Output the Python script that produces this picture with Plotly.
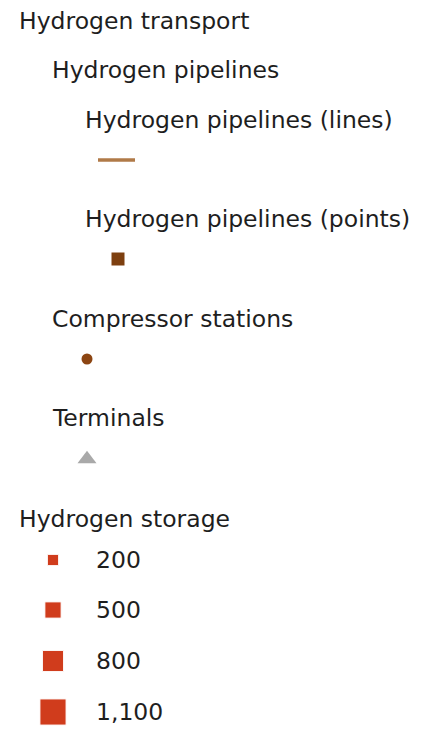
import plotly.graph_objects as go

# Legend content
headings = ["Hydrogen transport", "Hydrogen pipelines", "Hydrogen pipelines (lines)",
            "Hydrogen pipelines (points)", "Compressor stations", "Terminals",
            "Hydrogen storage"]
heading_levels = [0, 1, 2, 2, 1, 1, 0]
storage_values = [200, 500, 800, 1100]
storage_labels = ["200", "500", "800", "1,100"]

TEXT = "#1e1e1e"
FONT = "DejaVu Sans"
FSIZE = 23.5
W, H = 424, 731
PAD = 8  # page body margin

fig = go.Figure()

# heading rows: indent and vertical centre
indent = {0: 18, 1: 51, 2: 84}
heading_y = [21, 70, 120, 219, 319, 418, 519]
for txt, lvl, y in zip(headings, heading_levels, heading_y):
    fig.add_annotation(x=indent[lvl], y=y, text=txt, showarrow=False,
                       xanchor="left", yanchor="middle", borderpad=0,
                       font=dict(family=FONT, size=FSIZE, color=TEXT))

# pipeline line symbol
fig.add_trace(go.Scatter(x=[98, 135], y=[160, 160], mode="lines",
                         line=dict(color="#b07a48", width=3.5), hoverinfo="skip"))
# pipeline points
fig.add_trace(go.Scatter(x=[118], y=[259], mode="markers",
                         marker=dict(symbol="square", size=13, color="#7d3f0f", opacity=1),
                         hoverinfo="skip"))
# compressor stations
fig.add_trace(go.Scatter(x=[87], y=[359], mode="markers",
                         marker=dict(symbol="circle", size=11, color="#8c4512", opacity=1),
                         hoverinfo="skip"))
# terminals
fig.add_trace(go.Scatter(x=[87], y=[459], mode="markers",
                         marker=dict(symbol="triangle-up", size=16.5, color="#a9a9a9", opacity=1),
                         hoverinfo="skip"))

# storage size classes
storage_y = [560, 610, 661, 712]
sizes = [8 + v * 0.0165 for v in storage_values]
fig.add_trace(go.Scatter(x=[53] * len(storage_values), y=storage_y, mode="markers",
                         marker=dict(symbol="square", size=sizes, color="#d03c1c", opacity=1),
                         hoverinfo="skip"))
for lab, y in zip(storage_labels, storage_y):
    fig.add_annotation(x=95, y=y, text=lab, showarrow=False,
                       xanchor="left", yanchor="middle", borderpad=0,
                       font=dict(family=FONT, size=FSIZE, color=TEXT))

fig.update_layout(
    width=W - PAD, height=H - PAD, autosize=False,
    margin=dict(l=0, r=0, t=0, b=0),
    showlegend=False,
    plot_bgcolor="white", paper_bgcolor="white",
    xaxis=dict(range=[PAD, W], visible=False, fixedrange=True),
    yaxis=dict(range=[H, PAD], visible=False, fixedrange=True),
)

fig.write_html("out.html")
